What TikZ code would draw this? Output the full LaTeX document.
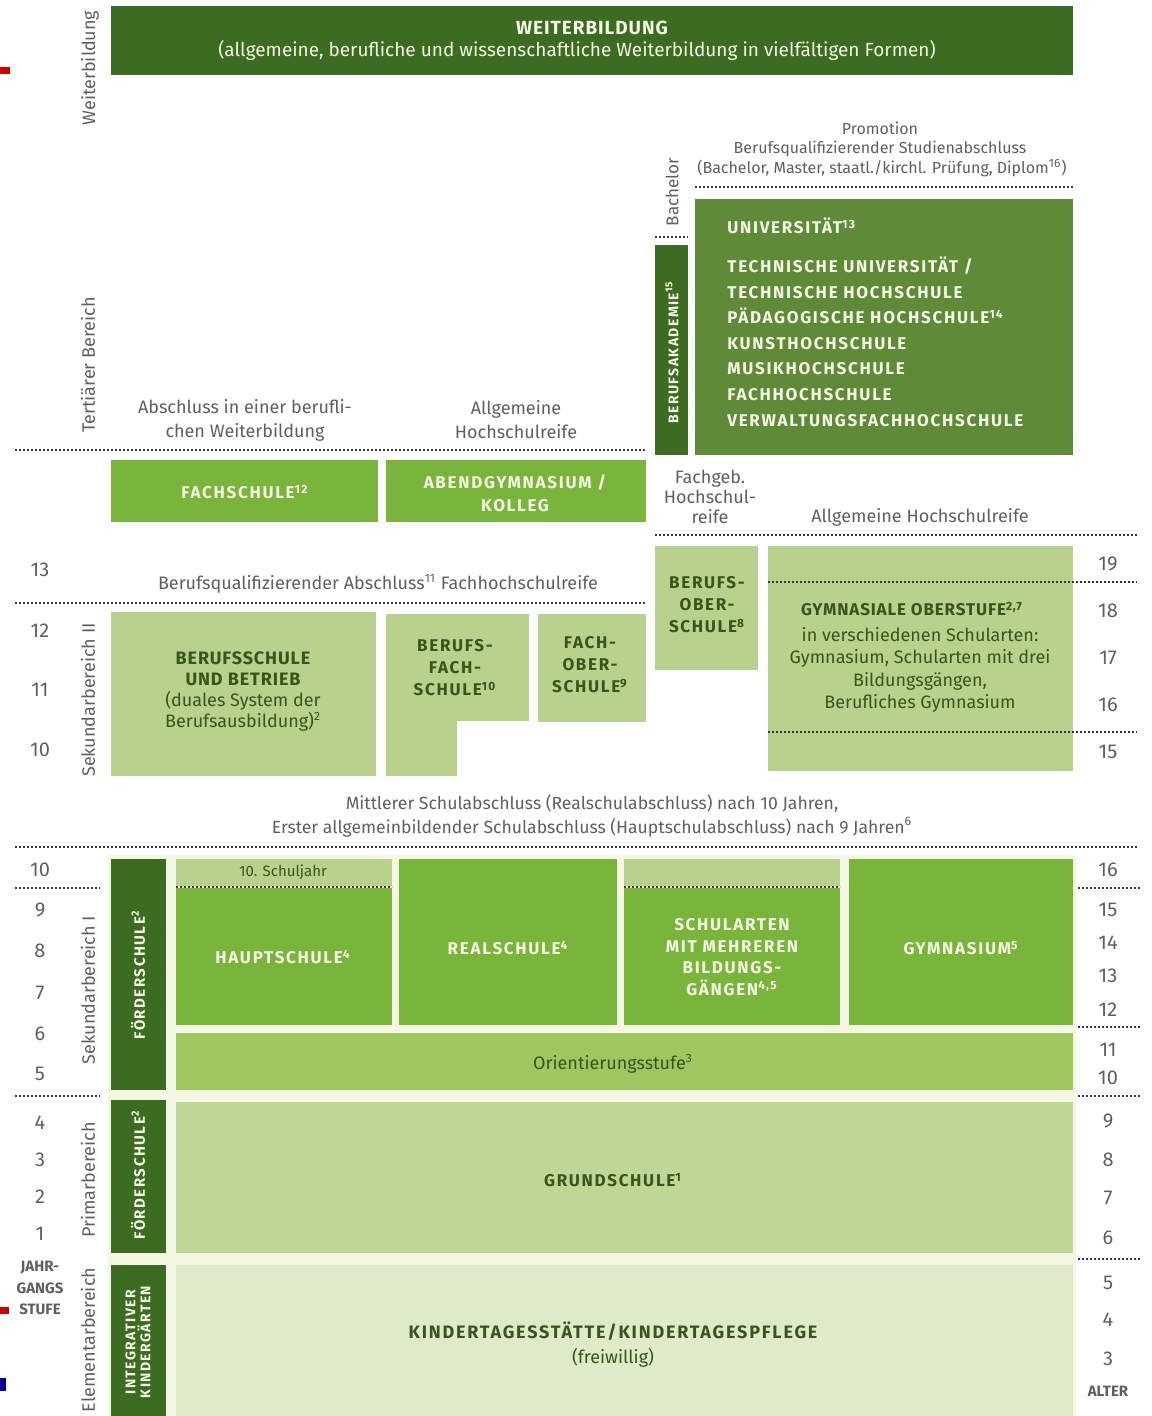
\documentclass[tikz,border=0pt]{standalone}
\usepackage{fontspec}
\setmainfont{Fira Sans}
\newfontfamily\capsf{Fira Sans}[LetterSpace=10]
\newfontfamily\capsg{Fira Sans}[LetterSpace=5]
\usetikzlibrary{positioning}

\definecolor{darkgr}{RGB}{60,107,34}
\definecolor{midgr}{RGB}{95,139,57}
\definecolor{brightgr}{RGB}{121,181,58}
\definecolor{lightgr}{RGB}{184,209,141}
\definecolor{oriegr}{RGB}{160,198,96}
\definecolor{grundgr}{RGB}{191,215,150}
\definecolor{kitagr}{RGB}{222,234,200}
\definecolor{txtgr}{RGB}{55,85,28}
\definecolor{cream}{RGB}{244,247,228}
\definecolor{labgray}{RGB}{95,95,95}
\definecolor{dotgray}{RGB}{55,55,55}

\tikzset{
  lab/.style={font=\fontsize{9}{12}\selectfont, text=labgray, align=center, inner sep=0pt},
  smalllab/.style={lab, font=\fontsize{8}{10}\selectfont},
  side/.style={lab, rotate=90},
  num/.style={font=\fontsize{10}{12}\selectfont, text=labgray, inner sep=0pt},
  wtxt/.style={font=\capsf\bfseries\fontsize{8.5}{11.5}\selectfont, text=cream, align=center, inner sep=0pt},
  dtxt/.style={font=\capsf\bfseries\fontsize{8.5}{11}\selectfont, text=txtgr, align=center, inner sep=0pt},
  dlab/.style={lab, text=txtgr},
  barlab/.style={wtxt, rotate=90, font=\capsf\bfseries\fontsize{7.5}{8}\selectfont},
  stufe/.style={draw=dotgray, line width=1pt, dash pattern=on 1.2pt off 0.8pt},
}

\begin{document}
\begin{tikzpicture}[x=0.5pt, y=-0.5pt]
\useasboundingbox (0,0) rectangle (1151,1416);

% Weiterbildung
\fill[darkgr] (111,6) rectangle (1073,75);
\node[wtxt, font=\capsg\bfseries\fontsize{9.5}{12}\selectfont] (wb) at (592,28) {WEITERBILDUNG};
\node[lab, text=cream, font=\fontsize{9.5}{12}\selectfont] (wbsub) at (577,51) {(allgemeine, berufliche und wissenschaftliche Weiterbildung in vielfältigen Formen)};

% Bereiche
\node[side] (sWb) at (90,68) {Weiterbildung};
\node[side] (sTert) at (88,365) {Tertiärer Bereich};
\node[side] (sSekII) at (88,700) {Sekundarbereich II};
\node[side] (sSekI) at (88,990) {Sekundarbereich I};
\node[side] (sPrim) at (88,1180) {Primarbereich};
\node[side] (sElem) at (88,1340) {Elementarbereich};

% Tertiaerer Bereich
\node[smalllab] (prom) at (880,128) {Promotion};
\node[smalllab] (bqs) at (880,149) {Berufsqualifizierender Studienabschluss};
\node[smalllab] (bms) at (882,168) {(Bachelor, Master, staatl./kirchl. Prüfung, Diplom\textsuperscript{16})};
\draw[stufe] (695,187) -- (1073,187);
\node[side, font=\fontsize{8.5}{10}\selectfont] (bach) at (672,192) {Bachelor};
\draw[stufe] (655,237) -- (688,237);

\fill[midgr] (695,199) rectangle (1073,455);
\node[wtxt, anchor=base west] (uni) at (727,234) {UNIVERSITÄT\textsuperscript{13}};
\node[wtxt, anchor=base west] (tu) at (727,273) {TECHNISCHE UNIVERSITÄT /};
\node[wtxt, anchor=base west] (th) at (727,299) {TECHNISCHE HOCHSCHULE};
\node[wtxt, anchor=base west] (ph) at (727,324) {PÄDAGOGISCHE HOCHSCHULE\textsuperscript{14}};
\node[wtxt, anchor=base west] (kh) at (727,350) {KUNSTHOCHSCHULE};
\node[wtxt, anchor=base west] (mh) at (727,375) {MUSIKHOCHSCHULE};
\node[wtxt, anchor=base west] (fh) at (727,401) {FACHHOCHSCHULE};
\node[wtxt, anchor=base west] (vfh) at (727,427) {VERWALTUNGSFACHHOCHSCHULE};

\fill[darkgr] (655,245) rectangle (688,455);
\node[barlab, font=\capsf\bfseries\fontsize{7}{8}\selectfont] (ba) at (672,352) {BERUFSAKADEMIE\textsuperscript{15}};

\node[lab] (absWb) at (245,420) {Abschluss in einer berufli-\\chen Weiterbildung};
\node[lab] (ahrA) at (516,420) {Allgemeine\\Hochschulreife};
\draw[stufe] (15,450) -- (645,450);

\fill[brightgr] (111,460) rectangle (378,522);
\node[wtxt] (fs) at (245,492) {FACHSCHULE\textsuperscript{12}};
\fill[brightgr] (386,460) rectangle (646,522);
\node[wtxt] (abend) at (515,493) {ABENDGYMNASIUM /\\KOLLEG};

% Sekundarbereich II
\node[lab, font=\fontsize{9}{10}\selectfont] (fghr) at (710,497) {Fachgeb.\\Hochschul-\\reife};
\node[lab] (ahrB) at (920,517) {Allgemeine Hochschulreife};
\draw[stufe] (655,535) -- (1137,535);

\fill[lightgr] (655,546) rectangle (758,670);
\node[dtxt] (bos) at (707,605) {BERUFS-\\OBER-\\SCHULE\textsuperscript{8}};
\fill[lightgr] (768,546) rectangle (1073,771);
\node[dtxt, font=\capsg\bfseries\fontsize{8.5}{11}\selectfont] (gost) at (912,609) {GYMNASIALE OBERSTUFE\textsuperscript{2,7}};
\node[dlab, font=\fontsize{9}{11.2}\selectfont] (gostsub) at (920,670) {in verschiedenen Schularten:\\Gymnasium, Schularten mit drei\\Bildungsgängen,\\Berufliches Gymnasium};
\draw[stufe] (768,582) -- (1137,582);
\draw[stufe] (768,732) -- (1137,732);

\node[lab] (bqa) at (378,584) {Berufsqualifizierender Abschluss\textsuperscript{11} Fachhochschulreife};
\draw[stufe] (15,603) -- (645,603);

\fill[lightgr] (111,612) rectangle (376,776);
\node[dlab, font=\fontsize{9}{10.5}\selectfont] (bsb) at (243,692) {{\capsg\bfseries BERUFSSCHULE}\\{\capsg\bfseries UND BETRIEB}\\(duales System der\\Berufsausbildung)\textsuperscript{2}};
\fill[lightgr] (386,614) -- (529,614) -- (529,721) -- (457,721) -- (457,776) -- (386,776) -- cycle;
\node[dtxt] (bfs) at (455,668) {BERUFS-\\FACH-\\SCHULE\textsuperscript{10}};
\fill[lightgr] (538,614) rectangle (646,722);
\node[dtxt] (fos) at (590,665) {FACH-\\OBER-\\SCHULE\textsuperscript{9}};

\node[lab, font=\fontsize{8.8}{12}\selectfont] (msa) at (592,816) {Mittlerer Schulabschluss (Realschulabschluss) nach 10 Jahren,\\Erster allgemeinbildender Schulabschluss (Hauptschulabschluss) nach 9 Jahren\textsuperscript{6}};
\draw[stufe] (15,847) -- (1137,847);

% Sekundarbereich I, Primarbereich, Elementarbereich
\fill[cream] (108,855) rectangle (1076,1416);
\fill[darkgr] (111,859) rectangle (166,1090);
\node[barlab] (foeA) at (138,975) {FÖRDERSCHULE\textsuperscript{2}};
\fill[darkgr] (111,1100) rectangle (166,1253);
\node[barlab] (foeB) at (138,1175) {FÖRDERSCHULE\textsuperscript{2}};
\fill[darkgr] (111,1265) rectangle (166,1416);
\node[barlab, font=\capsf\bfseries\fontsize{7}{7.5}\selectfont] (ikg) at (138,1342) {INTEGRATIVER\\KINDERGÄRTEN};

\fill[lightgr] (176,859) rectangle (392,886);
\fill[brightgr] (176,888) rectangle (392,1025);
\node[dlab, font=\fontsize{7.5}{9}\selectfont] (sj) at (283,872) {10. Schuljahr};
\node[wtxt] (hs) at (283,957) {HAUPTSCHULE\textsuperscript{4}};
\fill[brightgr] (399,859) rectangle (617,1025);
\node[wtxt] (rs) at (508,948) {REALSCHULE\textsuperscript{4}};
\fill[lightgr] (624,859) rectangle (840,886);
\fill[brightgr] (624,888) rectangle (840,1025);
\node[wtxt, font=\capsf\bfseries\fontsize{8.5}{10.8}\selectfont] (smb) at (732,957) {SCHULARTEN\\MIT MEHREREN\\BILDUNGS-\\GÄNGEN\textsuperscript{4,5}};
\fill[brightgr] (849,859) rectangle (1073,1025);
\node[wtxt] (gym) at (961,948) {GYMNASIUM\textsuperscript{5}};
\draw[stufe] (176,887) -- (392,887);
\draw[stufe] (624,887) -- (840,887);

\fill[oriegr] (176,1033) rectangle (1073,1090);
\node[dlab] (ost) at (613,1064) {Orientierungsstufe\textsuperscript{3}};
\fill[grundgr] (176,1102) rectangle (1073,1253);
\node[dtxt] (gs) at (613,1180) {GRUNDSCHULE\textsuperscript{1}};
\fill[kitagr] (176,1265) rectangle (1073,1416);
\node[dlab, font=\fontsize{9}{12.5}\selectfont] (kita) at (613,1345) {{\capsf\bfseries KINDERTAGESSTÄTTE/KINDERTAGESPFLEGE}\\(freiwillig)};

% Jahrgangsstufen links
\foreach \y/\n in {570/13, 631/12, 690/11, 750/10, 870/10, 910/9, 951/8, 993/7, 1034/6, 1074/5, 1123/4, 1160/3, 1197/2, 1234/1}
  \node[num] (jl\y) at (40,\y) {\n};
\node[lab, font=\bfseries\fontsize{7.5}{10.75}\selectfont] (jgs) at (40,1288) {JAHR-\\GANGS\\STUFE};
\draw[stufe] (15,888) -- (100,888);
\draw[stufe] (15,1096) -- (100,1096);

% Alter rechts
\foreach \y/\n in {564/19, 611/18, 658/17, 705/16, 752/15, 870/16, 910/15, 943/14, 976/13, 1010/12, 1050/11, 1078/10, 1121/9, 1160/8, 1198/7, 1238/6, 1283/5, 1320/4, 1359/3}
  \node[num] (ar\y) at (1108,\y) {\n};
\node[lab, font=\bfseries\fontsize{7.5}{9}\selectfont] (alter) at (1108,1391) {ALTER};
\foreach \y in {888, 1027, 1096, 1259}
  \draw[stufe] (1078,\y) -- (1140,\y);

% Randmarken
\fill[red!80!black] (0,67) rectangle (10,74);
\fill[red!80!black] (0,1307) rectangle (9,1314);
\fill[blue!60!black] (0,1378) rectangle (6,1391);
\end{tikzpicture}
\end{document}
